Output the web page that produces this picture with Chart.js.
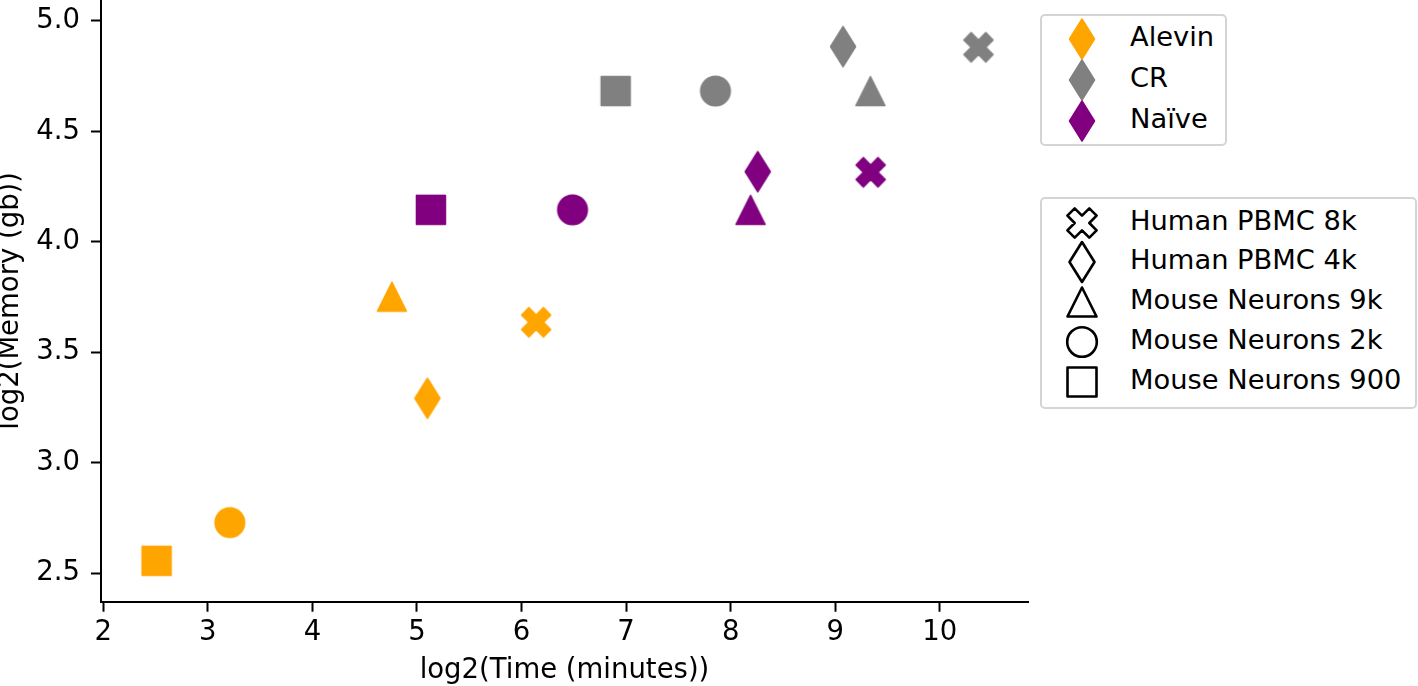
<!DOCTYPE html>
<html>
<head>
<meta charset="utf-8">
<script src="https://cdn.jsdelivr.net/npm/chart.js@4.4.0/dist/chart.umd.min.js"></script>
<style>
  html, body { margin: 0; padding: 0; background: #fff; }
  #wrap { position: relative; width: 1418px; height: 686px; overflow: hidden; font-family: "DejaVu Sans", sans-serif; }
  canvas#chart { position: absolute; left: 0; top: 0; }
  .legend { position: absolute; border: 2px solid #d4d4d4; border-radius: 5px; background: #fff; box-sizing: border-box; }
  .row { position: absolute; left: 0; height: 40px; width: 100%; }
  .row svg { position: absolute; left: 18px; top: 0; }
  .row span { position: absolute; left: 88px; top: -2px; line-height: 40px; font-size: 27.3px; color: #000; white-space: nowrap; }
</style>
</head>
<body>
<div id="wrap">
  <canvas id="chart" width="1418" height="686"></canvas>
  <div class="legend" id="legMethods" style="left:1040px; top:14px; width:187px; height:132px;"></div>
  <div class="legend" id="legData" style="left:1040px; top:197px; width:377px; height:212px;"></div>
</div>
<script>
// ---- data ----
const datasetNames = ['Human PBMC 8k', 'Human PBMC 4k', 'Mouse Neurons 9k', 'Mouse Neurons 2k', 'Mouse Neurons 900'];
const datasetShapes = ['X', 'diamond', 'triangle', 'circle', 'square'];
const methods = ['Alevin', 'CR', 'Naïve'];
const methodColors = ['#FFA500', '#808080', '#800080'];

const alevinTime   = [6.14, 5.10, 4.76, 3.21, 2.51];
const alevinMemory = [3.636, 3.292, 3.752, 2.729, 2.556];
const crTime       = [10.37, 9.075, 9.337, 7.855, 6.90];
const crMemory     = [4.881, 4.884, 4.683, 4.683, 4.683];
const naiveTime    = [9.339, 8.259, 8.19, 6.488, 5.133];
const naiveMemory  = [4.315, 4.318, 4.145, 4.145, 4.145];

const xTickValues = [2, 3, 4, 5, 6, 7, 8, 9, 10];
const yTickValues = [2.5, 3.0, 3.5, 4.0, 4.5, 5.0];

// ---- marker drawing ----
function shapePath(ctx, shape, cx, cy) {
  ctx.beginPath();
  if (shape === 'square') {
    ctx.rect(cx - 14.5, cy - 14.5, 29, 29);
  } else if (shape === 'circle') {
    ctx.arc(cx, cy, 14.8, 0, Math.PI * 2);
  } else if (shape === 'triangle') {
    ctx.moveTo(cx, cy - 14.5);
    ctx.lineTo(cx + 14.5, cy + 14.5);
    ctx.lineTo(cx - 14.5, cy + 14.5);
    ctx.closePath();
  } else if (shape === 'diamond') {
    ctx.moveTo(cx, cy - 20);
    ctx.lineTo(cx + 12.5, cy);
    ctx.lineTo(cx, cy + 20);
    ctx.lineTo(cx - 12.5, cy);
    ctx.closePath();
  } else if (shape === 'X') {
    const L = 15.5, w = L / 3;
    const pts = [[-w,-L],[w,-L],[w,-w],[L,-w],[L,w],[w,w],[w,L],[-w,L],[-w,w],[-L,w],[-L,-w],[-w,-w]];
    const c = Math.SQRT1_2;
    pts.forEach((p, i) => {
      const x = cx + (p[0] - p[1]) * c;
      const y = cy + (p[0] + p[1]) * c;
      if (i === 0) ctx.moveTo(x, y); else ctx.lineTo(x, y);
    });
    ctx.closePath();
  }
}

function makeMarker(shape, color, filled) {
  const cv = document.createElement('canvas');
  cv.width = 48; cv.height = 48;
  const ctx = cv.getContext('2d');
  shapePath(ctx, shape, 24, 24);
  ctx.lineJoin = 'round';
  if (filled) {
    ctx.fillStyle = color; ctx.fill();
    ctx.strokeStyle = color; ctx.lineWidth = 1.5; ctx.stroke();
  } else {
    ctx.strokeStyle = color; ctx.lineWidth = 2.6; ctx.stroke();
  }
  return cv;
}

const timeArrays = [alevinTime, crTime, naiveTime];
const memArrays = [alevinMemory, crMemory, naiveMemory];

const datasets = methods.map((m, mi) => ({
  label: m,
  data: timeArrays[mi].map((t, i) => ({ x: t, y: memArrays[mi][i] })),
  pointStyle: datasetShapes.map(s => makeMarker(s, methodColors[mi], true)),
  backgroundColor: methodColors[mi],
  borderColor: methodColors[mi],
  pointRadius: 16,
  pointHoverRadius: 16,
  showLine: false
}));

const FONT = 'DejaVu Sans';
const FS = 27.5;

new Chart(document.getElementById('chart'), {
  type: 'scatter',
  data: { datasets },
  options: {
    responsive: false,
    animation: false,
    events: [],
    layout: { autoPadding: false, padding: { left: 0, right: 390, top: 0, bottom: 0 } },
    plugins: { legend: { display: false }, tooltip: { enabled: false } },
    scales: {
      x: {
        type: 'linear',
        min: 1.978, max: 10.844,
        afterBuildTicks: s => { s.ticks = xTickValues.map(v => ({ value: v })); },
        afterFit: s => { s.height = 84.3; s.paddingLeft = 0; s.paddingRight = 0; },
        border: { display: true, color: '#000', width: 2 },
        grid: { display: true, drawOnChartArea: false, drawTicks: true, tickLength: 10, tickWidth: 2, tickColor: '#000' },
        ticks: { color: '#000', font: { family: FONT, size: FS }, padding: 5, maxRotation: 0, callback: v => String(v) },
        title: { display: true, text: 'log2(Time (minutes))', color: '#000', font: { family: FONT, size: FS }, padding: { top: 0, bottom: -1 } }
      },
      y: {
        type: 'linear',
        min: 2.371, max: 5.095,
        afterBuildTicks: s => { s.ticks = yTickValues.map(v => ({ value: v })); },
        afterFit: s => { s.width = 101; s.paddingTop = 0; s.paddingBottom = 0; },
        border: { display: true, color: '#000', width: 2 },
        grid: { display: true, drawOnChartArea: false, drawTicks: true, tickLength: 10, tickWidth: 2, tickColor: '#000' },
        ticks: { color: '#000', font: { family: FONT, size: FS, lineHeight: 0.01 }, padding: 11, autoSkip: false, callback: v => Number(v).toFixed(1) },
        title: { display: true, text: 'log2(Memory (gb))', color: '#000', font: { family: FONT, size: FS }, padding: { top: -6, bottom: 0 } }
      }
    }
  }
});

// ---- HTML legends ----
function svgMarker(shape, color, filled) {
  const ns = 'http://www.w3.org/2000/svg';
  const svg = document.createElementNS(ns, 'svg');
  svg.setAttribute('width', 44); svg.setAttribute('height', 44);
  svg.style.top = '-2px';
  const cv = makeMarker(shape, color, filled);
  const img = document.createElementNS(ns, 'image');
  img.setAttribute('href', cv.toDataURL());
  img.setAttribute('x', -2); img.setAttribute('y', -2);
  img.setAttribute('width', 48); img.setAttribute('height', 48);
  svg.appendChild(img);
  return svg;
}
function addRow(box, top, shape, color, filled, text) {
  const r = document.createElement('div');
  r.className = 'row'; r.style.top = top + 'px';
  r.appendChild(svgMarker(shape, color, filled));
  const s = document.createElement('span'); s.textContent = text;
  r.appendChild(s);
  box.appendChild(r);
}
const lm = document.getElementById('legMethods');
const methodRowCenters = [25.3, 65.5, 106.7];
methods.forEach((m, i) => addRow(lm, methodRowCenters[i] - 2 - 20, 'diamond', methodColors[i], true, m));
const ld = document.getElementById('legData');
const dataRowCenters = [26.3, 64.7, 104.7, 144.7, 184.7];
datasetNames.forEach((n, i) => addRow(ld, dataRowCenters[i] - 2 - 20, datasetShapes[i], '#000', false, n));
</script>
</body>
</html>
